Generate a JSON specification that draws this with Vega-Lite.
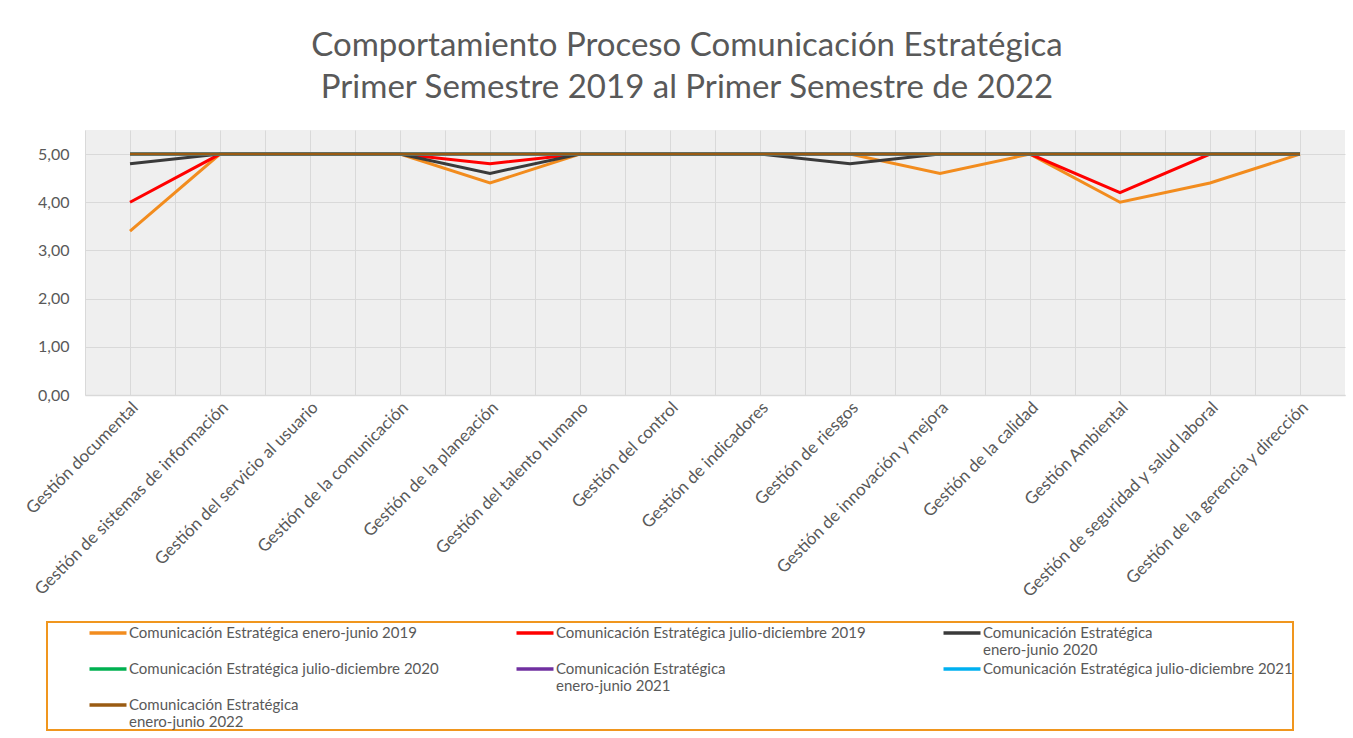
{
  "$schema": "https://vega.github.io/schema/vega-lite/v6.json",
  "autosize": "none",
  "width": 1260,
  "height": 265,
  "padding": {"left": 85, "top": 130, "right": 8, "bottom": 343},
  "background": "#ffffff",
  "title": {
    "text": ["Comportamiento Proceso Comunicación Estratégica", "Primer Semestre 2019 al Primer Semestre de 2022"],
    "font": "Lato",
    "fontSize": 33,
    "fontWeight": "normal",
    "color": "#595959",
    "anchor": "middle",
    "frame": "group",
    "dx": -28,
    "lineHeight": 42,
    "offset": 25
  },
  "datasets": {
    "d": [
      {"p": "Gestión documental", "s": "Comunicación Estratégica enero-junio 2019", "v": 3.4},
      {"p": "Gestión de sistemas de información", "s": "Comunicación Estratégica enero-junio 2019", "v": 5},
      {"p": "Gestión del servicio al usuario", "s": "Comunicación Estratégica enero-junio 2019", "v": 5},
      {"p": "Gestión de la comunicación", "s": "Comunicación Estratégica enero-junio 2019", "v": 5},
      {"p": "Gestión de la planeación", "s": "Comunicación Estratégica enero-junio 2019", "v": 4.4},
      {"p": "Gestión del talento humano", "s": "Comunicación Estratégica enero-junio 2019", "v": 5},
      {"p": "Gestión del control", "s": "Comunicación Estratégica enero-junio 2019", "v": 5},
      {"p": "Gestión de indicadores", "s": "Comunicación Estratégica enero-junio 2019", "v": 5},
      {"p": "Gestión de riesgos", "s": "Comunicación Estratégica enero-junio 2019", "v": 5},
      {"p": "Gestión de innovación y mejora", "s": "Comunicación Estratégica enero-junio 2019", "v": 4.6},
      {"p": "Gestión de la calidad", "s": "Comunicación Estratégica enero-junio 2019", "v": 5},
      {"p": "Gestión Ambiental", "s": "Comunicación Estratégica enero-junio 2019", "v": 4.0},
      {"p": "Gestión de seguridad y salud laboral", "s": "Comunicación Estratégica enero-junio 2019", "v": 4.4},
      {"p": "Gestión de la gerencia y dirección", "s": "Comunicación Estratégica enero-junio 2019", "v": 5},

      {"p": "Gestión documental", "s": "Comunicación Estratégica julio-diciembre 2019", "v": 4.0},
      {"p": "Gestión de sistemas de información", "s": "Comunicación Estratégica julio-diciembre 2019", "v": 5},
      {"p": "Gestión del servicio al usuario", "s": "Comunicación Estratégica julio-diciembre 2019", "v": 5},
      {"p": "Gestión de la comunicación", "s": "Comunicación Estratégica julio-diciembre 2019", "v": 5},
      {"p": "Gestión de la planeación", "s": "Comunicación Estratégica julio-diciembre 2019", "v": 4.8},
      {"p": "Gestión del talento humano", "s": "Comunicación Estratégica julio-diciembre 2019", "v": 5},
      {"p": "Gestión del control", "s": "Comunicación Estratégica julio-diciembre 2019", "v": 5},
      {"p": "Gestión de indicadores", "s": "Comunicación Estratégica julio-diciembre 2019", "v": 5},
      {"p": "Gestión de riesgos", "s": "Comunicación Estratégica julio-diciembre 2019", "v": 5},
      {"p": "Gestión de innovación y mejora", "s": "Comunicación Estratégica julio-diciembre 2019", "v": 5},
      {"p": "Gestión de la calidad", "s": "Comunicación Estratégica julio-diciembre 2019", "v": 5},
      {"p": "Gestión Ambiental", "s": "Comunicación Estratégica julio-diciembre 2019", "v": 4.2},
      {"p": "Gestión de seguridad y salud laboral", "s": "Comunicación Estratégica julio-diciembre 2019", "v": 5},
      {"p": "Gestión de la gerencia y dirección", "s": "Comunicación Estratégica julio-diciembre 2019", "v": 5},

      {"p": "Gestión documental", "s": "Comunicación Estratégica enero-junio 2020", "v": 4.8},
      {"p": "Gestión de sistemas de información", "s": "Comunicación Estratégica enero-junio 2020", "v": 5},
      {"p": "Gestión del servicio al usuario", "s": "Comunicación Estratégica enero-junio 2020", "v": 5},
      {"p": "Gestión de la comunicación", "s": "Comunicación Estratégica enero-junio 2020", "v": 5},
      {"p": "Gestión de la planeación", "s": "Comunicación Estratégica enero-junio 2020", "v": 4.6},
      {"p": "Gestión del talento humano", "s": "Comunicación Estratégica enero-junio 2020", "v": 5},
      {"p": "Gestión del control", "s": "Comunicación Estratégica enero-junio 2020", "v": 5},
      {"p": "Gestión de indicadores", "s": "Comunicación Estratégica enero-junio 2020", "v": 5},
      {"p": "Gestión de riesgos", "s": "Comunicación Estratégica enero-junio 2020", "v": 4.8},
      {"p": "Gestión de innovación y mejora", "s": "Comunicación Estratégica enero-junio 2020", "v": 5},
      {"p": "Gestión de la calidad", "s": "Comunicación Estratégica enero-junio 2020", "v": 5},
      {"p": "Gestión Ambiental", "s": "Comunicación Estratégica enero-junio 2020", "v": 5},
      {"p": "Gestión de seguridad y salud laboral", "s": "Comunicación Estratégica enero-junio 2020", "v": 5},
      {"p": "Gestión de la gerencia y dirección", "s": "Comunicación Estratégica enero-junio 2020", "v": 5},

      {"p": "Gestión documental", "s": "Comunicación Estratégica julio-diciembre 2020", "v": 5},
      {"p": "Gestión de sistemas de información", "s": "Comunicación Estratégica julio-diciembre 2020", "v": 5},
      {"p": "Gestión del servicio al usuario", "s": "Comunicación Estratégica julio-diciembre 2020", "v": 5},
      {"p": "Gestión de la comunicación", "s": "Comunicación Estratégica julio-diciembre 2020", "v": 5},
      {"p": "Gestión de la planeación", "s": "Comunicación Estratégica julio-diciembre 2020", "v": 5},
      {"p": "Gestión del talento humano", "s": "Comunicación Estratégica julio-diciembre 2020", "v": 5},
      {"p": "Gestión del control", "s": "Comunicación Estratégica julio-diciembre 2020", "v": 5},
      {"p": "Gestión de indicadores", "s": "Comunicación Estratégica julio-diciembre 2020", "v": 5},
      {"p": "Gestión de riesgos", "s": "Comunicación Estratégica julio-diciembre 2020", "v": 5},
      {"p": "Gestión de innovación y mejora", "s": "Comunicación Estratégica julio-diciembre 2020", "v": 5},
      {"p": "Gestión de la calidad", "s": "Comunicación Estratégica julio-diciembre 2020", "v": 5},
      {"p": "Gestión Ambiental", "s": "Comunicación Estratégica julio-diciembre 2020", "v": 5},
      {"p": "Gestión de seguridad y salud laboral", "s": "Comunicación Estratégica julio-diciembre 2020", "v": 5},
      {"p": "Gestión de la gerencia y dirección", "s": "Comunicación Estratégica julio-diciembre 2020", "v": 5},

      {"p": "Gestión documental", "s": "Comunicación Estratégica enero-junio 2021", "v": 5},
      {"p": "Gestión de sistemas de información", "s": "Comunicación Estratégica enero-junio 2021", "v": 5},
      {"p": "Gestión del servicio al usuario", "s": "Comunicación Estratégica enero-junio 2021", "v": 5},
      {"p": "Gestión de la comunicación", "s": "Comunicación Estratégica enero-junio 2021", "v": 5},
      {"p": "Gestión de la planeación", "s": "Comunicación Estratégica enero-junio 2021", "v": 5},
      {"p": "Gestión del talento humano", "s": "Comunicación Estratégica enero-junio 2021", "v": 5},
      {"p": "Gestión del control", "s": "Comunicación Estratégica enero-junio 2021", "v": 5},
      {"p": "Gestión de indicadores", "s": "Comunicación Estratégica enero-junio 2021", "v": 5},
      {"p": "Gestión de riesgos", "s": "Comunicación Estratégica enero-junio 2021", "v": 5},
      {"p": "Gestión de innovación y mejora", "s": "Comunicación Estratégica enero-junio 2021", "v": 5},
      {"p": "Gestión de la calidad", "s": "Comunicación Estratégica enero-junio 2021", "v": 5},
      {"p": "Gestión Ambiental", "s": "Comunicación Estratégica enero-junio 2021", "v": 5},
      {"p": "Gestión de seguridad y salud laboral", "s": "Comunicación Estratégica enero-junio 2021", "v": 5},
      {"p": "Gestión de la gerencia y dirección", "s": "Comunicación Estratégica enero-junio 2021", "v": 5},

      {"p": "Gestión documental", "s": "Comunicación Estratégica julio-diciembre 2021", "v": 5},
      {"p": "Gestión de sistemas de información", "s": "Comunicación Estratégica julio-diciembre 2021", "v": 5},
      {"p": "Gestión del servicio al usuario", "s": "Comunicación Estratégica julio-diciembre 2021", "v": 5},
      {"p": "Gestión de la comunicación", "s": "Comunicación Estratégica julio-diciembre 2021", "v": 5},
      {"p": "Gestión de la planeación", "s": "Comunicación Estratégica julio-diciembre 2021", "v": 5},
      {"p": "Gestión del talento humano", "s": "Comunicación Estratégica julio-diciembre 2021", "v": 5},
      {"p": "Gestión del control", "s": "Comunicación Estratégica julio-diciembre 2021", "v": 5},
      {"p": "Gestión de indicadores", "s": "Comunicación Estratégica julio-diciembre 2021", "v": 5},
      {"p": "Gestión de riesgos", "s": "Comunicación Estratégica julio-diciembre 2021", "v": 5},
      {"p": "Gestión de innovación y mejora", "s": "Comunicación Estratégica julio-diciembre 2021", "v": 5},
      {"p": "Gestión de la calidad", "s": "Comunicación Estratégica julio-diciembre 2021", "v": 5},
      {"p": "Gestión Ambiental", "s": "Comunicación Estratégica julio-diciembre 2021", "v": 5},
      {"p": "Gestión de seguridad y salud laboral", "s": "Comunicación Estratégica julio-diciembre 2021", "v": 5},
      {"p": "Gestión de la gerencia y dirección", "s": "Comunicación Estratégica julio-diciembre 2021", "v": 5},

      {"p": "Gestión documental", "s": "Comunicación Estratégica enero-junio 2022", "v": 5},
      {"p": "Gestión de sistemas de información", "s": "Comunicación Estratégica enero-junio 2022", "v": 5},
      {"p": "Gestión del servicio al usuario", "s": "Comunicación Estratégica enero-junio 2022", "v": 5},
      {"p": "Gestión de la comunicación", "s": "Comunicación Estratégica enero-junio 2022", "v": 5},
      {"p": "Gestión de la planeación", "s": "Comunicación Estratégica enero-junio 2022", "v": 5},
      {"p": "Gestión del talento humano", "s": "Comunicación Estratégica enero-junio 2022", "v": 5},
      {"p": "Gestión del control", "s": "Comunicación Estratégica enero-junio 2022", "v": 5},
      {"p": "Gestión de indicadores", "s": "Comunicación Estratégica enero-junio 2022", "v": 5},
      {"p": "Gestión de riesgos", "s": "Comunicación Estratégica enero-junio 2022", "v": 5},
      {"p": "Gestión de innovación y mejora", "s": "Comunicación Estratégica enero-junio 2022", "v": 5},
      {"p": "Gestión de la calidad", "s": "Comunicación Estratégica enero-junio 2022", "v": 5},
      {"p": "Gestión Ambiental", "s": "Comunicación Estratégica enero-junio 2022", "v": 5},
      {"p": "Gestión de seguridad y salud laboral", "s": "Comunicación Estratégica enero-junio 2022", "v": 5},
      {"p": "Gestión de la gerencia y dirección", "s": "Comunicación Estratégica enero-junio 2022", "v": 5}
    ]
  },
  "data": {"name": "d"},
  "config": {
    "locale": {"number": {"decimal": ",", "thousands": ".", "grouping": [3], "currency": ["", " €"]}},
    "view": {"fill": "#efefef", "stroke": null},
    "font": "Lato",
    "axis": {
      "gridColor": "#d9d9d9",
      "gridWidth": 1,
      "labelFont": "Lato",
      "labelColor": "#595959",
      "titleColor": "#595959"
    }
  },
  "layer": [
    {
      "mark": {"type": "line", "strokeOpacity": 0},
      "encoding": {
        "x": {
          "field": "p", "type": "nominal", "sort": null,
          "scale": {"type": "band", "paddingInner": 0, "paddingOuter": 0},
          "axis": {"orient": "top", "bandPosition": 0, "grid": true, "labels": false, "ticks": false, "domain": false, "title": null}
        },
        "y": {"field": "v", "type": "quantitative"},
        "detail": {"field": "s", "type": "nominal"}
      }
    },
    {
      "mark": {"type": "line", "strokeWidth": 3, "strokeJoin": "miter"},
      "encoding": {
        "x": {
          "field": "p", "type": "nominal", "sort": null,
          "axis": {
            "orient": "bottom", "bandPosition": 0.5, "grid": true, "title": null,
            "labelAngle": -45, "labelFontSize": 17, "labelPadding": 4, "labelLimit": 400,
            "ticks": false, "domainColor": "#d9d9d9", "domainWidth": 1.5
          }
        },
        "y": {
          "field": "v", "type": "quantitative",
          "scale": {"domain": [0, 5.5], "nice": false},
          "axis": {
            "values": [0, 1, 2, 3, 4, 5], "title": null, "domain": false, "ticks": false,
            "labelFontSize": 16, "labelPadding": 16, "format": ".2f"
          }
        },
        "color": {
          "field": "s", "type": "nominal",
          "scale": {
            "domain": [
              "Comunicación Estratégica enero-junio 2019",
              "Comunicación Estratégica julio-diciembre 2019",
              "Comunicación Estratégica enero-junio 2020",
              "Comunicación Estratégica julio-diciembre 2020",
              "Comunicación Estratégica enero-junio 2021",
              "Comunicación Estratégica julio-diciembre 2021",
              "Comunicación Estratégica enero-junio 2022"
            ],
            "range": ["#F28C1E", "#FF0000", "#3A3A3A", "#00B050", "#7030A0", "#00B0F0", "#9A5B12"]
          },
          "legend": {
            "title": null,
            "orient": "none",
            "legendX": -38,
            "legendY": 492,
            "direction": "horizontal",
            "columns": 3,
            "gridAlign": "all",
            "columnPadding": 35,
            "rowPadding": -1,
            "symbolType": "M-2,0H2",
            "symbolSize": 342,
            "symbolStrokeWidth": 3.5,
            "symbolOffset": 50,
            "labelFont": "Lato",
            "labelFontSize": 15,
            "labelColor": "#595959",
            "labelLimit": 500,
            "labelOffset": 10,
            "labelExpr": "(indexof(datum.label, 'enero-junio') >= 0 && indexof(datum.label, '2019') < 0) ? ['Comunicación Estratégica', replace(datum.label, 'Comunicación Estratégica ', '')] : [datum.label, ' ']",
            "strokeColor": "#F0961E",
            "padding": 0,
            "encode": {"legend": {"update": {"strokeWidth": {"value": 2}}}}
          }
        }
      }
    }
  ],
  "resolve": {"axis": {"x": "independent"}}
}
